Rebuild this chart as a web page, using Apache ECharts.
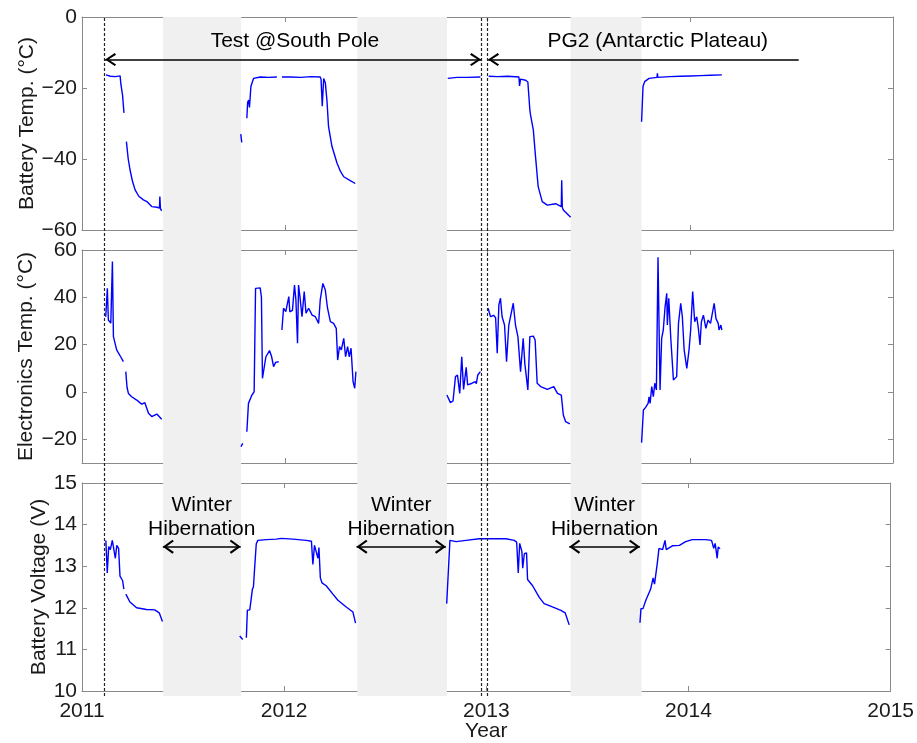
<!DOCTYPE html>
<html><head><meta charset="utf-8">
<script src="https://cdn.jsdelivr.net/npm/echarts@6/dist/echarts.min.js"></script>
<style>html,body{margin:0;padding:0;background:#fff}#c{width:917px;height:743px}</style>
</head><body><div id="c"></div>
<script>
// ---------- data ----------
const yearTicks = [2011, 2012, 2013, 2014, 2015];
const battTempTicks = [-60, -40, -20, 0];
const elecTempTicks = [-20, 0, 20, 40, 60];
const voltTicks = [10, 11, 12, 13, 14, 15];

const hibernation = [[2011.40, 2011.785], [2012.358, 2012.80], [2013.41, 2013.76]];
const deployLines = [2011.114, 2012.968, 2013.003];

const battTemp = [
[2011.118,-16.3],[2011.14,-16.7],[2011.165,-16.8],[2011.188,-16.6],[2011.192,-19],[2011.2,-22],[2011.207,-27],
[2011.212,null],
[2011.219,-35.1],[2011.228,-40],[2011.237,-43.1],[2011.25,-46.5],[2011.262,-48.7],[2011.28,-50.5],[2011.303,-51.5],[2011.32,-52],[2011.344,-53.4],[2011.37,-53.6],[2011.382,-53.8],[2011.384,-50.6],[2011.387,-54],[2011.393,-54.6],
[2011.5,null],
[2011.783,-33],[2011.788,-35.3],
[2011.80,null],
[2011.813,-28.5],[2011.817,-24],[2011.822,-23.4],[2011.826,-25.5],[2011.833,-19.6],[2011.846,-17.3],[2011.88,-16.9],[2011.92,-17],[2011.961,-16.9],
[2011.973,null],
[2011.986,-16.9],[2012.03,-16.9],[2012.08,-17],[2012.13,-16.8],[2012.175,-16.9],[2012.179,-17.5],[2012.185,-25.1],[2012.192,-17.3],[2012.2,-18.5],[2012.208,-23.4],[2012.216,-30.9],[2012.233,-36.5],[2012.258,-41.2],[2012.275,-43.5],[2012.291,-45],[2012.323,-46.1],[2012.348,-46.9],
[2012.5,null],
[2012.804,-17.3],[2012.85,-17],[2012.9,-17],[2012.965,-16.9],
[2012.985,null],
[2013.006,-16.7],[2013.05,-16.8],[2013.1,-16.7],[2013.155,-16.9],[2013.158,-19.4],[2013.163,-17.5],[2013.188,-17.8],[2013.199,-18.3],[2013.209,-26.2],[2013.212,-27.5],[2013.226,-31.8],[2013.237,-39.4],[2013.25,-47.8],[2013.27,-52],[2013.295,-53],[2013.336,-52.6],[2013.364,-53.4],[2013.366,-46],[2013.369,-53.6],[2013.374,-54.4],[2013.41,-56.4],
[2013.6,null],
[2013.76,-29.5],[2013.767,-19.6],[2013.775,-18.2],[2013.797,-17.3],[2013.836,-17],[2013.838,-15.9],[2013.84,-17],[2013.9,-16.8],[2013.95,-16.7],[2014.0,-16.6],[2014.05,-16.5],[2014.1,-16.4],[2014.156,-16.3]
];

const elecTemp = [
[2011.117,31.8],[2011.125,43.8],[2011.13,30.4],[2011.142,29.1],[2011.150,55.1],[2011.155,23.4],[2011.171,17.8],[2011.19,15],[2011.204,12.8],
[2011.21,null],
[2011.216,8.6],[2011.222,2],[2011.229,-0.6],[2011.245,-2],[2011.27,-3.4],[2011.285,-4.5],[2011.295,-5.1],[2011.31,-4.5],[2011.328,-9],[2011.344,-10.4],[2011.369,-9.3],[2011.393,-11.5],
[2011.6,null],
[2011.784,-23.1],[2011.793,-21.7],
[2011.80,null],
[2011.813,-16.8],[2011.821,-4.8],[2011.838,-1.3],[2011.849,0.1],[2011.856,43.8],[2011.879,44],[2011.885,40],[2011.89,5.8],[2011.897,6.5],[2011.907,14.9],[2011.925,17.5],[2011.935,15],[2011.945,10.7],[2011.955,12.5],[2011.97,12.8],
[2011.978,null],
[2011.986,26.2],[2011.994,35.4],[2012.005,34],[2012.02,40.3],[2012.025,33.9],[2012.038,34.5],[2012.048,45.2],[2012.055,38.9],[2012.063,20.6],[2012.068,45.2],[2012.075,40.3],[2012.085,31.8],[2012.096,42.4],[2012.105,33.3],[2012.118,35.4],[2012.135,32.5],[2012.151,31.8],[2012.167,29],[2012.175,38.9],[2012.188,45.9],[2012.2,43.1],[2012.211,35.4],[2012.225,29.7],[2012.241,29],[2012.254,26.9],[2012.261,13.5],[2012.27,19.2],[2012.279,17.8],[2012.291,22.7],[2012.3,14.9],[2012.31,19.2],[2012.318,14.9],[2012.327,18.5],[2012.337,4.4],[2012.345,1.6],[2012.351,8.6],
[2012.5,null],
[2012.80,-1.3],[2012.817,-4.5],[2012.83,-3.8],[2012.842,6.5],[2012.852,7.1],[2012.863,-0.6],[2012.873,14.9],[2012.882,1.1],[2012.895,10.4],[2012.902,3],[2012.924,3.7],[2012.94,4.4],[2012.945,3.5],[2012.952,7.2],[2012.965,8.6],
[2012.985,null],
[2013.003,35.4],[2013.015,31.8],[2013.03,32.4],[2013.04,31.4],[2013.048,16.4],[2013.056,36.8],[2013.064,39.6],[2013.072,31.8],[2013.084,28.3],[2013.094,12.8],[2013.105,28.3],[2013.113,27.6],[2013.127,37.5],[2013.138,28.3],[2013.15,23.4],[2013.163,8.6],[2013.176,22.7],[2013.184,12.1],[2013.199,0.9],[2013.209,23.4],[2013.226,23.6],[2013.235,22],[2013.245,3.7],[2013.262,2.3],[2013.295,1.1],[2013.327,2.3],[2013.345,-0.6],[2013.364,-1.3],[2013.374,-9.7],[2013.385,-12.5],[2013.406,-13.5],
[2013.6,null],
[2013.76,-21.4],[2013.769,-7.6],[2013.78,-6.5],[2013.792,-4.8],[2013.797,-2],[2013.802,-4.8],[2013.81,2.3],[2013.818,-2],[2013.825,3.7],[2013.833,0.9],[2013.841,56.9],[2013.851,0.9],[2013.859,22.7],[2013.867,26.2],[2013.876,36.1],[2013.884,41.7],[2013.887,28.3],[2013.894,39.6],[2013.904,22.7],[2013.912,22],[2013.917,5.1],[2013.933,6.5],[2013.942,29],[2013.953,37.5],[2013.961,31.8],[2013.97,17.8],[2013.983,10],[2013.994,17.8],[2014.002,26.2],[2014.012,42.4],[2014.022,29.7],[2014.032,31.8],[2014.04,26.9],[2014.048,19.9],[2014.055,29.7],[2014.065,32.5],[2014.077,26.9],[2014.088,30.4],[2014.10,29],[2014.118,37.5],[2014.127,31],[2014.138,29],[2014.142,26.2],[2014.151,28.3],[2014.156,26.2]
];

const battVolt = [
[2011.118,13.62],[2011.125,12.84],[2011.132,13.47],[2011.14,13.4],[2011.15,13.62],[2011.158,13.6],[2011.165,13.19],[2011.172,13.5],[2011.181,13.43],[2011.188,12.76],[2011.201,12.65],[2011.207,12.45],
[2011.212,null],
[2011.217,12.33],[2011.237,12.14],[2011.27,12.0],[2011.319,11.96],[2011.36,11.95],[2011.382,11.88],[2011.398,11.67],
[2011.6,null],
[2011.78,11.32],[2011.795,11.24],
[2011.80,null],
[2011.813,11.28],[2011.818,11.94],[2011.83,11.95],[2011.838,11.97],[2011.843,12.45],[2011.848,12.5],[2011.854,12.96],[2011.862,13.54],[2011.87,13.62],[2011.912,13.64],[2011.961,13.65],[2011.986,13.67],[2012.043,13.65],[2012.109,13.62],[2012.135,13.6],[2012.142,13.04],[2012.15,13.5],[2012.158,13.52],[2012.167,13.19],[2012.172,13.45],[2012.179,12.72],[2012.187,12.6],[2012.208,12.53],[2012.241,12.33],[2012.266,12.18],[2012.307,12.02],[2012.34,11.9],[2012.353,11.63],
[2012.5,null],
[2012.804,12.1],[2012.82,13.62],[2012.85,13.59],[2012.9,13.62],[2012.965,13.66],[2013.006,13.66],[2013.097,13.66],[2013.138,13.62],[2013.15,13.58],[2013.158,12.84],[2013.165,13.55],[2013.176,13.35],[2013.18,12.95],[2013.188,13.3],[2013.199,13.32],[2013.204,12.68],[2013.229,12.53],[2013.262,12.25],[2013.286,12.1],[2013.327,12.02],[2013.369,11.94],[2013.39,11.88],[2013.41,11.59],
[2013.6,null],
[2013.76,11.64],[2013.765,11.98],[2013.775,11.98],[2013.789,12.18],[2013.813,12.45],[2013.825,12.72],[2013.832,12.57],[2013.846,13.08],[2013.854,13.43],[2013.862,13.4],[2013.872,13.4],[2013.884,13.62],[2013.89,13.4],[2013.92,13.49],[2013.955,13.5],[2013.986,13.59],[2014.019,13.64],[2014.085,13.64],[2014.114,13.62],[2014.125,13.43],[2014.132,13.55],[2014.142,13.19],[2014.147,13.46],[2014.156,13.42]
];

// ---------- chart ----------
const FONT = '"Liberation Sans", Arial, Helvetica, sans-serif';
const AXC = '#8a8a8a';
const TXT = '#1a1a1a';
const L = 82, W = 811, H = 213;
const tops = [17, 250, 483];
const ranges = [[-60, 0, battTempTicks], [-30, 60, elecTempTicks], [10, 15, voltTicks]];
const names = ['Battery Temp. (°C)', 'Electronics Temp. (°C)', 'Battery Voltage (V)'];
const nameGaps = [44, 45, 32];
const fmt = v => String(v).replace('-', '\u2212');
// open chevron whose tip sits at the centre of its bounding box
const chevron = 'path://M6.5,-11 L6.5,-11 M6.5,0 L13,9.6 L11.4,11 L6.5,3.4 L1.6,11 L0,9.6 Z';

const grids = tops.map(t => ({left: L, top: t, width: W, height: H, show: false}));
grids.push({left: L, top: 17, width: W, height: 679, show: false});

const xAxes = [], yAxes = [];
for (let i = 0; i < 3; i++) {
  ['bottom', 'top'].forEach(pos => {
    xAxes.push({
      type: 'value', gridIndex: i, position: pos, min: 2011, max: 2015,
      axisLine: {show: true, onZero: false, lineStyle: {color: AXC, width: 1}},
      axisTick: {show: true, inside: true, length: 5, lineStyle: {color: AXC}, customValues: yearTicks},
      axisLabel: {show: pos === 'bottom' && i === 2, customValues: yearTicks, formatter: v => String(v), fontFamily: FONT, fontSize: 21, color: TXT, margin: 10},
      splitLine: {show: false},
      name: (pos === 'bottom' && i === 2) ? 'Year' : '',
      nameLocation: 'middle', nameGap: 30, nameMoveOverlap: false,
      nameTextStyle: {fontFamily: FONT, fontSize: 21, color: TXT}
    });
  });
  ['left', 'right'].forEach(pos => {
    yAxes.push({
      type: 'value', gridIndex: i, position: pos, min: ranges[i][0], max: ranges[i][1],
      axisLine: {show: true, onZero: false, lineStyle: {color: AXC, width: 1}},
      axisTick: {show: true, inside: true, length: 5, lineStyle: {color: AXC}, customValues: ranges[i][2]},
      axisLabel: {show: pos === 'left', customValues: ranges[i][2], formatter: fmt, fontFamily: FONT, fontSize: 21, color: TXT, margin: 5},
      splitLine: {show: false},
      name: pos === 'left' ? names[i] : '',
      nameLocation: 'middle', nameRotate: 90, nameGap: nameGaps[i], nameMoveOverlap: false,
      nameTextStyle: {fontFamily: FONT, fontSize: 21, color: TXT}
    });
  });
}
// overlay axes (index 6)
xAxes.push({type: 'value', gridIndex: 3, min: 2011, max: 2015, show: false});
yAxes.push({type: 'value', gridIndex: 3, min: 0, max: 1, show: false});

const lineStyle = {color: '#0000ff', width: 1.4};
const arrowLine = {color: '#000', width: 1.5, type: 'solid'};
const txtLabel = {show: true, position: 'inside', color: '#000', fontFamily: FONT, fontSize: 21};

const series = [
  {
    type: 'line', xAxisIndex: 6, yAxisIndex: 6, data: [[2011, null]], z: -1, silent: true,
    markArea: {silent: true, itemStyle: {color: '#f0f0f0'},
      data: hibernation.map(h => [{xAxis: h[0]}, {xAxis: h[1]}])},
    markLine: {silent: true, symbol: 'none', label: {show: false},
      lineStyle: {color: '#222', width: 1.2, type: [3, 2]},
      data: deployLines.map(x => ({xAxis: x}))}
  },
  {
    type: 'line', xAxisIndex: 0, yAxisIndex: 0, data: battTemp, showSymbol: false, connectNulls: false, lineStyle, z: 3,
    markLine: {silent: true, label: {show: false}, symbolSize: [13, 22], lineStyle: arrowLine,
      data: [
        [{coord: [deployLines[0], -12], symbol: chevron}, {coord: [deployLines[1], -12], symbol: chevron}],
        [{coord: [deployLines[2], -12], symbol: chevron}, {coord: [2014.535, -12], symbol: 'none'}]
      ]},
    markPoint: {silent: true, symbol: 'rect', symbolSize: 1, itemStyle: {color: 'rgba(0,0,0,0)'},
      label: txtLabel,
      data: [
        {coord: [2012.05, -6.7], value: 0, label: {formatter: 'Test @South Pole'}},
        {coord: [2013.84, -6.7], value: 0, label: {formatter: 'PG2 (Antarctic Plateau)'}}
      ]}
  },
  {type: 'line', xAxisIndex: 2, yAxisIndex: 2, data: elecTemp, showSymbol: false, connectNulls: false, lineStyle, z: 3},
  {
    type: 'line', xAxisIndex: 4, yAxisIndex: 4, data: battVolt, showSymbol: false, connectNulls: false, lineStyle, z: 3,
    markLine: {silent: true, label: {show: false}, symbol: [chevron, chevron], symbolSize: [14, 22], lineStyle: {color: '#000', width: 1.6, type: 'solid'},
      data: hibernation.map(h => [{coord: [h[0], 13.47]}, {coord: [h[1], 13.47]}])},
    markPoint: {silent: true, symbol: 'rect', symbolSize: 1, itemStyle: {color: 'rgba(0,0,0,0)'},
      label: Object.assign({}, txtLabel, {lineHeight: 24, align: 'center'}),
      data: hibernation.map(h => ({coord: [(h[0] + h[1]) / 2, 14.18], value: 0, label: {formatter: 'Winter\nHibernation'}}))}
  }
];

const chart = echarts.init(document.getElementById('c'), null, {renderer: 'canvas'});
chart.setOption({animation: false, backgroundColor: '#fff', grid: grids, xAxis: xAxes, yAxis: yAxes, series});
</script></body></html>
